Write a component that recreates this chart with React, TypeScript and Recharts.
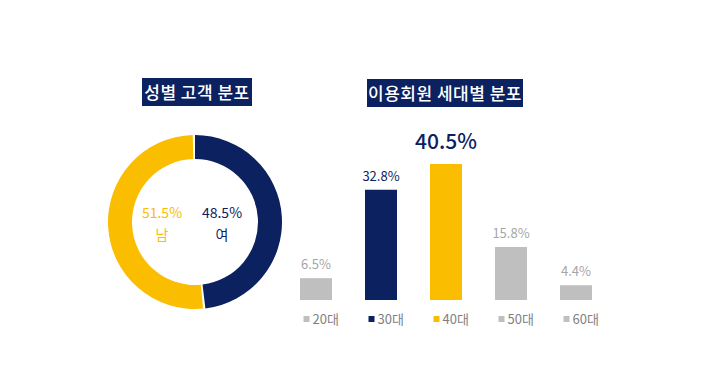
import { Bar, BarChart, Cell, LabelList, Pie, PieChart, XAxis, YAxis } from "recharts";

const NAVY = "#0c2160";
const YELLOW = "#fbbd00";
const GRAY = "#bfbfbf";
const FONT = "'Noto Sans CJK KR', 'Noto Sans', sans-serif";

const genderNames = ["여", "남"];
const genderValues = [48.5, 51.5];
const genderColors = [NAVY, YELLOW];

const ageGroups = ["20대", "30대", "40대", "50대", "60대"];
const ageValues = [6.5, 32.8, 40.5, 15.8, 4.4];
const ageColors = [GRAY, NAVY, YELLOW, GRAY, GRAY];
const ageLabelColors = ["#a6a6a6", NAVY, NAVY, "#a6a6a6", "#a6a6a6"];

const genderData = genderNames.map((name, i) => ({ name, value: genderValues[i] }));
const ageData = ageGroups.map((group, i) => ({ group, value: ageValues[i] }));

function Title({ text, left, top, width }: { text: string; left: number; top: number; width: number }) {
  return (
    <div
      style={{
        position: "absolute",
        left,
        top,
        width,
        height: 28,
        background: NAVY,
        color: "#fff",
        fontFamily: FONT,
        fontWeight: 500,
        fontSize: 17,
        lineHeight: "28px",
        textAlign: "center",
        letterSpacing: 0.5,
      }}
    >
      {text}
    </div>
  );
}

function BarLabel(props: any) {
  const { x, y, width, value, index } = props;
  const big = index === 2;
  return (
    <text
      x={x + width / 2}
      y={y - (big ? 15 : 9)}
      textAnchor="middle"
      fill={ageLabelColors[index]}
      fontFamily={FONT}
      fontSize={big ? 21 : 13}
      fontWeight={big ? 500 : 400}
    >
      {`${value}%`}
    </text>
  );
}

function LegendTick(props: any) {
  const { x, y, payload, index } = props;
  return (
    <g>
      <rect x={x - 12} y={y + 8} width={6} height={6} fill={ageColors[index]} />
      <text x={x - 3} y={y + 16} fill="#7f7f7f" fontFamily={FONT} fontSize={13}>
        {payload.value}
      </text>
    </g>
  );
}

export default function App() {
  return (
    <div style={{ position: "relative", width: 718, height: 389, margin: -8, background: "#fff" }}>
      <Title text="성별 고객 분포" left={142} top={78} width={110} />
      <Title text="이용회원 세대별 분포" left={367} top={79} width={156} />

      <div style={{ position: "absolute", left: 95, top: 122 }}>
        <PieChart width={200} height={200} margin={{ top: 0, right: 0, bottom: 0, left: 0 }}>
          <Pie
            data={genderData}
            dataKey="value"
            nameKey="name"
            cx={100}
            cy={100}
            innerRadius={63}
            outerRadius={87}
            startAngle={90}
            endAngle={-270}
            paddingAngle={1.5}
            stroke="none"
            isAnimationActive={false}
          >
            {genderData.map((d, i) => (
              <Cell key={d.name} fill={genderColors[i]} />
            ))}
          </Pie>
          <text x={67} y={96} textAnchor="middle" fill={YELLOW} fontFamily={FONT} fontSize={14}>
            51.5%
          </text>
          <text x={67} y={118} textAnchor="middle" fill={YELLOW} fontFamily={FONT} fontSize={14}>
            남
          </text>
          <text x={127} y={96} textAnchor="middle" fill={NAVY} fontFamily={FONT} fontSize={14}>
            48.5%
          </text>
          <text x={127} y={118} textAnchor="middle" fill={NAVY} fontFamily={FONT} fontSize={14}>
            여
          </text>
        </PieChart>
      </div>

      <div style={{ position: "absolute", left: 283, top: 100 }}>
        <BarChart width={325} height={240} data={ageData} margin={{ top: 32, right: 0, bottom: 0, left: 0 }}>
          <XAxis
            dataKey="group"
            axisLine={false}
            tickLine={false}
            height={40}
            interval={0}
            tick={<LegendTick />}
          />
          <YAxis hide domain={[0, 50]} />
          <Bar dataKey="value" barSize={32} isAnimationActive={false}>
            {ageData.map((d, i) => (
              <Cell key={d.group} fill={ageColors[i]} />
            ))}
            <LabelList dataKey="value" content={<BarLabel />} />
          </Bar>
        </BarChart>
      </div>
    </div>
  );
}
